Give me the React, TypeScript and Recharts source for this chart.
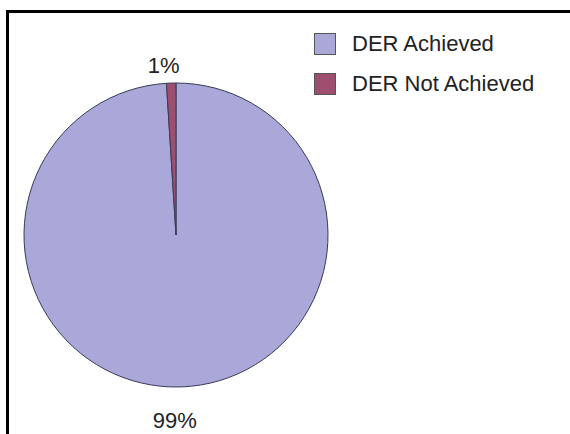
import React from 'react';
import { PieChart, Pie, Cell } from 'recharts';

const categories = ['DER Achieved', 'DER Not Achieved'];
const values = [99, 1];
const percentLabels = ['99%', '1%'];
const colors = ['#A9A8D8', '#9E4F70'];

const data = categories.map((name, i) => ({ name, value: values[i], label: percentLabels[i] }));

const FONT = '"Liberation Sans", Arial, Helvetica, sans-serif';
const RAD = Math.PI / 180;
const labelOffsets = [34, 18];

const renderLabel = (props: any) => {
  const { cx, cy, midAngle, outerRadius, index } = props;
  const r = outerRadius + labelOffsets[index];
  const x = cx + r * Math.cos(-midAngle * RAD) - 7;
  const y = cy + r * Math.sin(-midAngle * RAD);
  return (
    <text x={x} y={y} textAnchor="middle" dominantBaseline="central" fill="#222" fontSize={22} fontFamily={FONT}>
      {data[index].label}
    </text>
  );
};

const LegendBlock = () => (
  <div style={{ position: 'absolute', left: 314, top: 33, fontFamily: FONT, fontSize: 22, color: '#222' }}>
    {data.map((d, i) => (
      <div key={d.name} style={{ display: 'flex', alignItems: 'center', height: 22, marginBottom: i === 0 ? 18 : 0 }}>
        <div style={{ width: 22, height: 22, background: colors[i], border: '1px solid #555', boxSizing: 'border-box', marginRight: 16 }} />
        <span style={{ lineHeight: '22px', whiteSpace: 'nowrap' }}>{d.name}</span>
      </div>
    ))}
  </div>
);

export default function App() {
  return (
    <div style={{ position: 'absolute', left: 0, top: 0, width: 570, height: 434, background: '#fff', overflow: 'hidden' }}>
      <div style={{ position: 'absolute', left: 6, top: 10, width: 564, height: 3, background: '#000' }} />
      <div style={{ position: 'absolute', left: 6, top: 10, width: 3, height: 424, background: '#000' }} />
      <PieChart width={570} height={434} margin={{ top: 0, right: 0, bottom: 0, left: 0 }} style={{ position: 'absolute', left: 0, top: 0 }}>
        <Pie
          data={data}
          dataKey="value"
          nameKey="name"
          cx={176}
          cy={235}
          outerRadius={152}
          startAngle={90}
          endAngle={-270}
          stroke="#3a3a58"
          strokeWidth={1}
          label={renderLabel}
          labelLine={false}
          isAnimationActive={false}
        >
          {data.map((d, i) => (
            <Cell key={d.name} fill={colors[i]} />
          ))}
        </Pie>
      </PieChart>
      <LegendBlock />
    </div>
  );
}
